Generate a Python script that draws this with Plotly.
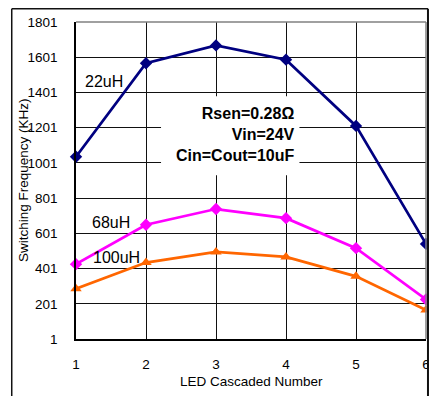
import plotly.graph_objects as go

led_number = [1, 2, 3, 4, 5, 6]
freq_22uH = [1036, 1567, 1668, 1587, 1211, 541]
freq_68uH = [426, 650, 739, 687, 517, 226]
freq_100uH = [286, 435, 495, 467, 357, 165]
y_ticks = [1, 201, 401, 601, 801, 1001, 1201, 1401, 1601, 1801]
x_ticks = [1, 2, 3, 4, 5, 6]

# the page body adds an 8px offset; size the figure to fit the window
OFF = 8
W, H = 437 - OFF, 396 - OFF
L, R, T, B = 76 - OFF, 7, 17.5 - OFF, 56.7
pw = W - L - R
ph = H - T - B

def px(x):
    return (x - OFF - L) / pw

def py(y):
    return (H - B - (y - OFF)) / ph

fig = go.Figure()
fig.add_trace(go.Scatter(x=led_number, y=freq_22uH, mode="lines+markers", name="22uH",
                         line=dict(color="#000080", width=2.75),
                         marker=dict(symbol="diamond", size=9.5, color="#000080"),
                         cliponaxis=False))
fig.add_trace(go.Scatter(x=led_number, y=freq_68uH, mode="lines+markers", name="68uH",
                         line=dict(color="#FF00FF", width=2.75),
                         marker=dict(symbol="diamond", size=9.5, color="#FF00FF"),
                         cliponaxis=False))
fig.add_trace(go.Scatter(x=led_number, y=freq_100uH, mode="lines+markers", name="100uH",
                         line=dict(color="#FF6600", width=2.75),
                         marker=dict(symbol="triangle-up", size=10, color="#FF6600"),
                         cliponaxis=False))

font = "Arial, Liberation Sans, sans-serif"

fig.update_layout(
    width=W, height=H,
    margin=dict(l=L, r=R, t=T, b=B, pad=0),
    paper_bgcolor="white", plot_bgcolor="white",
    showlegend=False,
    font=dict(family=font, size=13, color="black"),
    xaxis=dict(range=[1, 6], tickvals=x_ticks, ticktext=[str(v) for v in x_ticks],
               showgrid=True, gridcolor="#111111", gridwidth=1,
               showline=True, linecolor="black", linewidth=1.5,
               zeroline=False, ticks="", ticklabelstandoff=12,
               tickfont=dict(size=13.5)),
    yaxis=dict(range=[1, 1801], tickvals=y_ticks, ticktext=[str(v) for v in y_ticks],
               showgrid=True, gridcolor="#111111", gridwidth=1,
               showline=True, linecolor="black", linewidth=1.5,
               zeroline=False, ticks="", ticklabelstandoff=14,
               tickfont=dict(size=13.5)),
)

# plot-area top/right edge (gray)
fig.add_shape(type="line", xref="paper", yref="paper", x0=0, x1=1, y0=1, y1=1,
              line=dict(color="#808080", width=1.5))
fig.add_shape(type="line", xref="paper", yref="paper", x0=1, x1=1, y0=0, y1=1,
              line=dict(color="#808080", width=1.5))

# outer frame (top, left, right)
fig.add_shape(type="line", xref="paper", yref="paper", x0=px(11), x1=px(432), y0=py(4), y1=py(4),
              line=dict(color="#111111", width=1.5))
fig.add_shape(type="line", xref="paper", yref="paper", x0=px(11), x1=px(11), y0=py(4), y1=py(400),
              line=dict(color="#111111", width=1.5))
fig.add_shape(type="line", xref="paper", yref="paper", x0=px(432), x1=px(432), y0=py(4), y1=py(400),
              line=dict(color="#111111", width=2))

# white box behind the parameter text
fig.add_shape(type="rect", xref="paper", yref="paper", x0=px(162), x1=px(302), y0=py(173), y1=py(93),
              fillcolor="white", line=dict(width=0), layer="above")

fig.add_annotation(xref="paper", yref="paper", x=px(300), y=py(132), xanchor="right", yanchor="middle",
                   text="<b>Rsen=0.28Ω</b><br><b>Vin=24V</b><br><b>Cin=Cout=10uF</b>",
                   align="right", showarrow=False, font=dict(size=16, family=font))

fig.add_annotation(x=1.095, y=1463, xanchor="left", yanchor="middle", text="22uH",
                   showarrow=False, font=dict(size=16, family=font))
fig.add_annotation(x=1.198, y=664, xanchor="left", yanchor="middle", text="68uH",
                   showarrow=False, font=dict(size=16, family=font))
fig.add_annotation(x=1.212, y=463, xanchor="left", yanchor="middle", text="100uH",
                   showarrow=False, font=dict(size=16, family=font))

# axis titles
fig.add_annotation(xref="paper", yref="paper", x=px(253), y=py(382), xanchor="center", yanchor="middle",
                   text="LED Cascaded Number", showarrow=False, font=dict(size=13.5, family=font))
fig.add_annotation(xref="paper", yref="paper", x=px(23), y=0.5, xanchor="center", yanchor="middle",
                   text="Switching Frequency (KHz)", textangle=-90, showarrow=False,
                   font=dict(size=13.5, family=font))

fig.write_html("out.html")
